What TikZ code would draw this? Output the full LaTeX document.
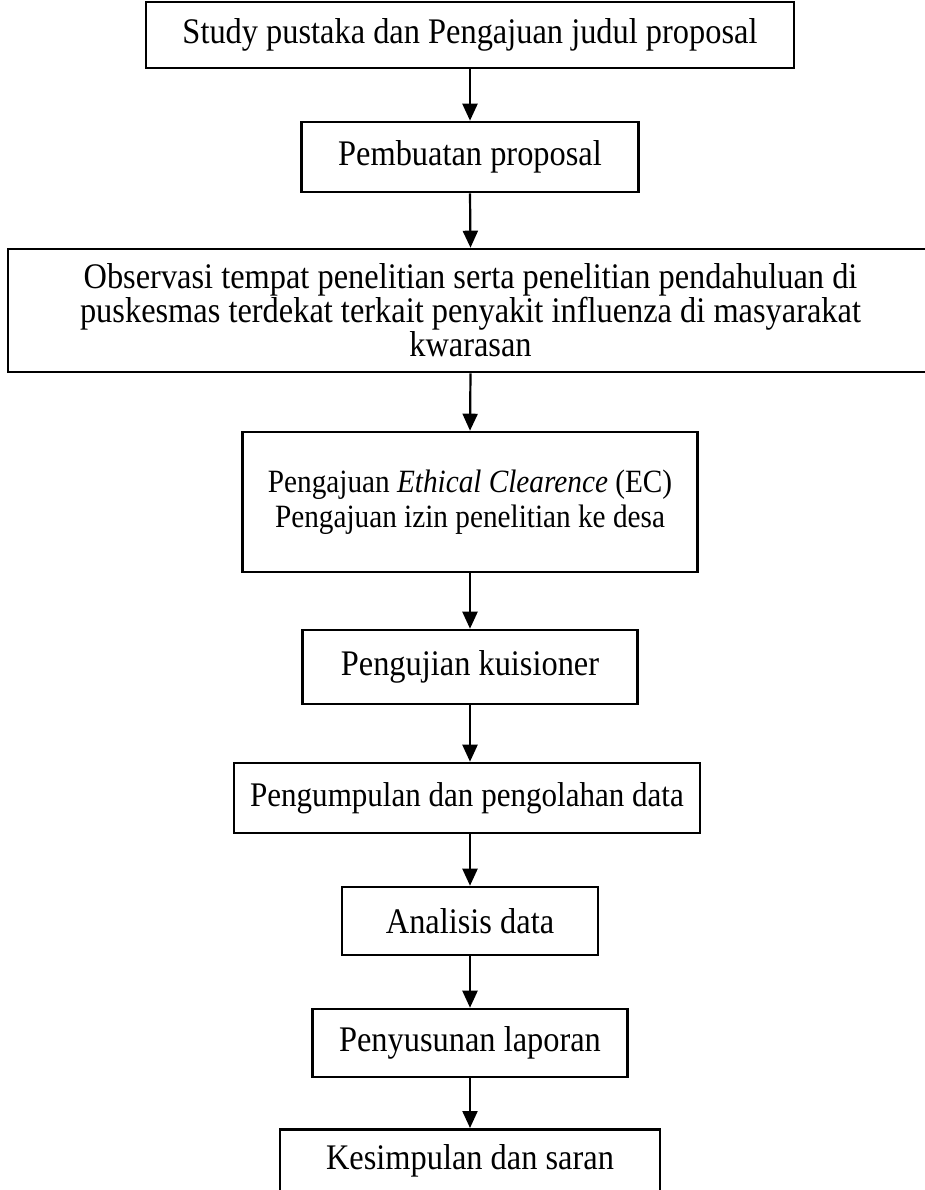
\documentclass[tikz,border=0pt]{standalone}
\usepackage{fontspec}
\setmainfont{Liberation Serif}[FakeStretch=0.9]
\usetikzlibrary{arrows.meta}
\begin{document}
\begin{tikzpicture}[x=1pt,y=-1pt,
  box/.style={draw=black, line width=2.6pt, inner sep=0pt, align=center,
    font=\fontsize{36}{34}\selectfont},
  arr/.style={line width=2.2pt, -{Triangle[width=15pt,length=17pt]}}]
\useasboundingbox (0,0) rectangle (925,1190);
\node[box, minimum width=648pt, minimum height=66pt] (b1) at (470,35) {Study pustaka dan Pengajuan judul proposal};
\node[box, minimum width=337pt, minimum height=70pt] (b2) at (470,157) {Pembuatan proposal};
\node[box, minimum width=925pt, minimum height=123pt] (b3) at (470.5,310.5) {Observasi tempat penelitian serta penelitian pendahuluan di\\ puskesmas terdekat terkait penyakit influenza di masyarakat\\ kwarasan};
\node[box, minimum width=455pt, minimum height=140pt, font=\fontsize{32.5}{35}\selectfont] (b4) at (470,502) {Pengajuan \textit{Ethical Clearence} (EC)\\ Pengajuan izin penelitian ke desa};
\node[box, minimum width=335pt, minimum height=74pt] (b5) at (470,667) {Pengujian kuisioner};
\node[box, minimum width=466pt, minimum height=70pt, font=\fontsize{34.5}{34}\selectfont] (b6) at (467,798) {Pengumpulan dan pengolahan data};
\node[box, minimum width=256pt, minimum height=68pt] (b7) at (470,921) {Analisis data};
\node[box, minimum width=315pt, minimum height=68pt] (b8) at (470,1043) {Penyusunan laporan};
\node[box, anchor=north, minimum width=380pt, text height=40pt, text depth=60pt] (b9) at (470,1128) {Kesimpulan dan saran};
\draw[arr] (b1.south) -- (b2.north);
\draw[arr] (b2.south) -- (b3.north);
\draw[arr] (b3.south) -- (b4.north);
\draw[arr] (b4.south) -- (b5.north);
\draw[arr] (b5.south) -- (b6.north -| b5.south);
\draw[arr] (b6.south -| b7.north) -- (b7.north);
\draw[arr] (b7.south) -- (b8.north);
\draw[arr] (b8.south) -- (b9.north);
\end{tikzpicture}
\end{document}
